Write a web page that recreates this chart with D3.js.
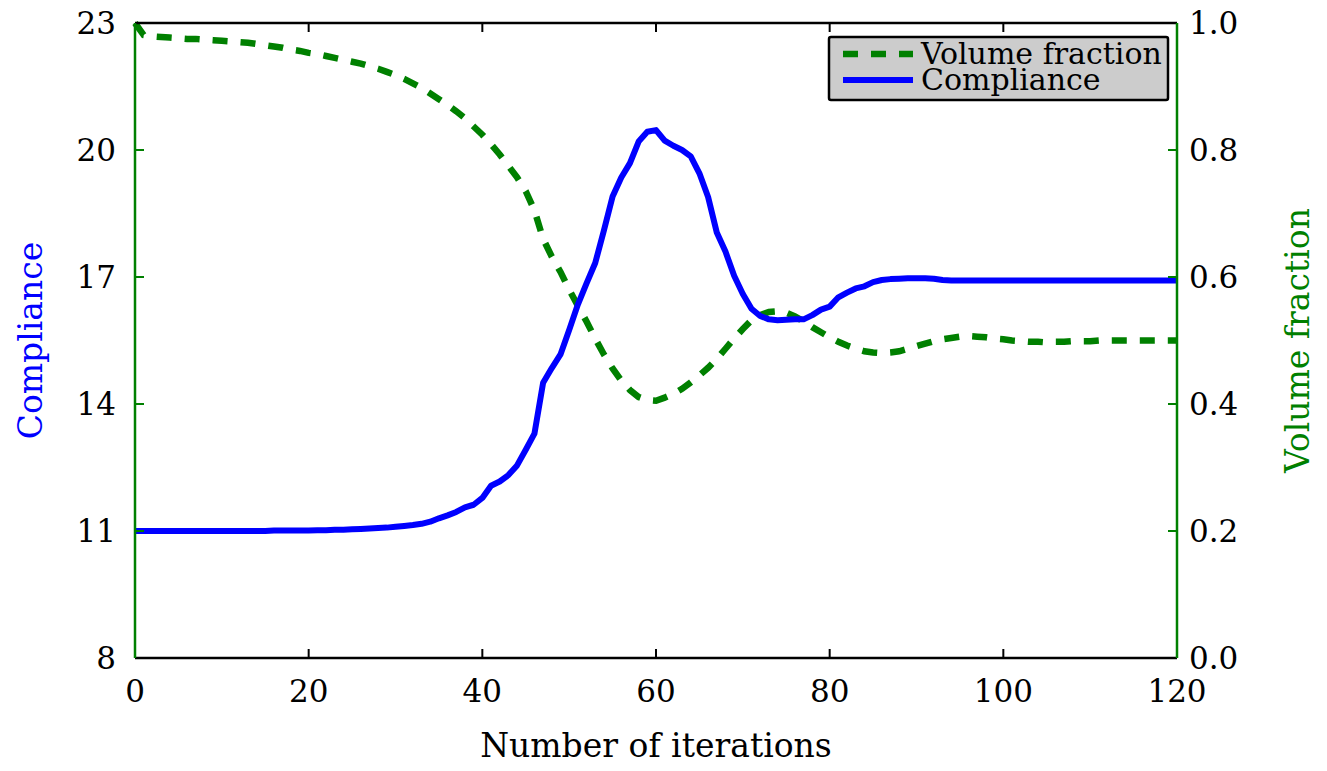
<!DOCTYPE html>
<html>
<head>
<meta charset="utf-8">
<script src="https://cdn.jsdelivr.net/npm/d3@7"></script>
<style>
body { margin: 0; background: #fff; }
text { font-family: "DejaVu Serif", "Liberation Serif", serif; }
</style>
</head>
<body>
<script>
// iterations 0..120
var iterations = d3.range(0, 121);

// compliance per iteration (left axis)
var compliance = [
  11.00, 11.00, 11.00, 11.00, 11.00, 11.00, 11.00, 11.00, 11.00, 11.00,
  11.00, 11.00, 11.00, 11.00, 11.00, 11.00, 11.01, 11.01, 11.01, 11.01,
  11.01, 11.02, 11.02, 11.03, 11.03, 11.04, 11.05, 11.06, 11.07, 11.08,
  11.10, 11.12, 11.14, 11.17, 11.22, 11.30, 11.37, 11.45, 11.56, 11.62,
  11.78, 12.07, 12.17, 12.32, 12.55, 12.92, 13.30, 14.50, 14.85, 15.17,
  15.75, 16.35, 16.85, 17.33, 18.10, 18.90, 19.35, 19.69, 20.20, 20.43,
  20.47, 20.22, 20.10, 20.00, 19.85, 19.45, 18.89, 18.05, 17.60, 17.03,
  16.60, 16.25, 16.08, 16.00, 15.98, 15.99, 16.00, 16.00, 16.10, 16.23,
  16.30, 16.52, 16.63, 16.73, 16.78, 16.88, 16.93, 16.95, 16.96, 16.97,
  16.97, 16.97, 16.96, 16.93, 16.92, 16.92, 16.92, 16.92, 16.92, 16.92,
  16.92, 16.92, 16.92, 16.92, 16.92, 16.92, 16.92, 16.92, 16.92, 16.92,
  16.92, 16.92, 16.92, 16.92, 16.92, 16.92, 16.92, 16.92, 16.92, 16.92,
  16.92
];

// volume fraction per iteration (right axis)
var volumeFraction = [
  1.000, 0.981, 0.979, 0.978, 0.977, 0.976, 0.975, 0.975, 0.974, 0.973,
  0.972, 0.971, 0.970, 0.969, 0.967, 0.965, 0.963, 0.961, 0.958, 0.956,
  0.953, 0.951, 0.948, 0.945, 0.942, 0.939, 0.936, 0.932, 0.928, 0.923,
  0.918, 0.912, 0.905, 0.898, 0.889, 0.880, 0.871, 0.861, 0.850, 0.837,
  0.824, 0.809, 0.793, 0.775, 0.757, 0.735, 0.705, 0.660, 0.632, 0.608,
  0.580, 0.555, 0.530, 0.503, 0.478, 0.456, 0.437, 0.422, 0.411, 0.406,
  0.405, 0.410, 0.416, 0.424, 0.434, 0.445, 0.457, 0.471, 0.487, 0.503,
  0.518, 0.532, 0.540, 0.545, 0.546, 0.544, 0.538, 0.530, 0.521, 0.513,
  0.505, 0.498, 0.492, 0.487, 0.483, 0.481, 0.480, 0.481, 0.483, 0.487,
  0.491, 0.495, 0.499, 0.502, 0.504, 0.506, 0.507, 0.506, 0.505, 0.503,
  0.502, 0.500, 0.499, 0.498, 0.498, 0.497, 0.498, 0.498, 0.499, 0.499,
  0.499, 0.500, 0.500, 0.500, 0.500, 0.500, 0.500, 0.500, 0.500, 0.500,
  0.500
];

var xTicks = [0, 20, 40, 60, 80, 100, 120];
var leftTicks = [8, 11, 14, 17, 20, 23];
var rightTicks = [0.0, 0.2, 0.4, 0.6, 0.8, 1.0];
var legendLabels = ["Volume fraction", "Compliance"];

var W = 1327, H = 771;
var margin = {left: 135, right: 150, top: 23, bottom: 113};
var green = "#008000", blue = "#0000ff";

var svg = d3.select("body").append("svg")
  .attr("width", W).attr("height", H);

var x = d3.scaleLinear().domain([0, 120]).range([margin.left, W - margin.right]);
var yL = d3.scaleLinear().domain([8, 23]).range([H - margin.bottom, margin.top]);
var yR = d3.scaleLinear().domain([0, 1]).range([H - margin.bottom, margin.top]);

var x0 = x(0), x1 = x(120), y0 = yL(8), y1 = yL(23);
var tickLen = 9, fsTick = 31, fsTitle = 33, fsLeg = 30;

// lines
var lineC = d3.line().x(function(d, i) { return x(iterations[i]); }).y(function(d) { return yL(d); });
var lineV = d3.line().x(function(d, i) { return x(iterations[i]); }).y(function(d) { return yR(d); });

svg.append("path").datum(volumeFraction)
  .attr("d", lineV).attr("fill", "none")
  .attr("stroke", green).attr("stroke-width", 6.5)
  .attr("stroke-dasharray", "15,13");

svg.append("path").datum(compliance)
  .attr("d", lineC).attr("fill", "none")
  .attr("stroke", blue).attr("stroke-width", 6)
  .attr("stroke-linejoin", "round");

// x ticks (bottom and top, inward)
var gx = svg.append("g");
xTicks.forEach(function(t) {
  gx.append("line").attr("x1", x(t)).attr("x2", x(t)).attr("y1", y0).attr("y2", y0 - tickLen)
    .attr("stroke", "#000").attr("stroke-width", 2);
  gx.append("line").attr("x1", x(t)).attr("x2", x(t)).attr("y1", y1).attr("y2", y1 + tickLen)
    .attr("stroke", "#000").attr("stroke-width", 2);
  gx.append("text").attr("x", x(t)).attr("y", y0 + 44)
    .attr("text-anchor", "middle").attr("font-size", fsTick).text(t);
});

// left ticks
leftTicks.forEach(function(t) {
  svg.append("line").attr("x1", x0).attr("x2", x0 + tickLen).attr("y1", yL(t)).attr("y2", yL(t))
    .attr("stroke", green).attr("stroke-width", 2);
  svg.append("text").attr("x", x0 - 19).attr("y", yL(t) + 11)
    .attr("text-anchor", "end").attr("font-size", fsTick).text(t);
});

// right ticks
rightTicks.forEach(function(t) {
  svg.append("line").attr("x1", x1).attr("x2", x1 - tickLen).attr("y1", yR(t)).attr("y2", yR(t))
    .attr("stroke", green).attr("stroke-width", 2);
  svg.append("text").attr("x", x1 + 12).attr("y", yR(t) + 11)
    .attr("text-anchor", "start").attr("font-size", fsTick).text(t.toFixed(1));
});

// spines
svg.append("line").attr("x1", x0).attr("x2", x1).attr("y1", y0).attr("y2", y0)
  .attr("stroke", "#000").attr("stroke-width", 2.5);
svg.append("line").attr("x1", x0).attr("x2", x1).attr("y1", y1).attr("y2", y1)
  .attr("stroke", "#000").attr("stroke-width", 2.5);
svg.append("line").attr("x1", x0).attr("x2", x0).attr("y1", y0).attr("y2", y1)
  .attr("stroke", green).attr("stroke-width", 2.5);
svg.append("line").attr("x1", x1).attr("x2", x1).attr("y1", y0).attr("y2", y1)
  .attr("stroke", green).attr("stroke-width", 2.5);

// axis titles
svg.append("text").attr("x", (x0 + x1) / 2).attr("y", 757)
  .attr("text-anchor", "middle").attr("font-size", fsTitle).text("Number of iterations");
svg.append("text").attr("transform", "translate(42," + ((y0 + y1) / 2) + ") rotate(-90)")
  .attr("text-anchor", "middle").attr("font-size", fsTitle).attr("fill", blue).text("Compliance");
svg.append("text").attr("transform", "translate(1309," + ((y0 + y1) / 2) + ") rotate(-90)")
  .attr("text-anchor", "middle").attr("font-size", fsTitle).attr("fill", green).text("Volume fraction");

// legend
var lg = svg.append("g").attr("transform", "translate(829,37)");
lg.append("rect").attr("width", 339).attr("height", 63).attr("rx", 2)
  .attr("fill", "#cccccc").attr("stroke", "#000").attr("stroke-width", 2.5);
lg.append("line").attr("x1", 14).attr("x2", 84).attr("y1", 17).attr("y2", 17)
  .attr("stroke", green).attr("stroke-width", 6.5).attr("stroke-dasharray", "15,13");
lg.append("line").attr("x1", 14).attr("x2", 84).attr("y1", 43).attr("y2", 43)
  .attr("stroke", blue).attr("stroke-width", 6);
lg.append("text").attr("x", 92).attr("y", 27).attr("font-size", fsLeg).text(legendLabels[0]);
lg.append("text").attr("x", 92).attr("y", 53).attr("font-size", fsLeg).text(legendLabels[1]);
</script>
</body>
</html>
